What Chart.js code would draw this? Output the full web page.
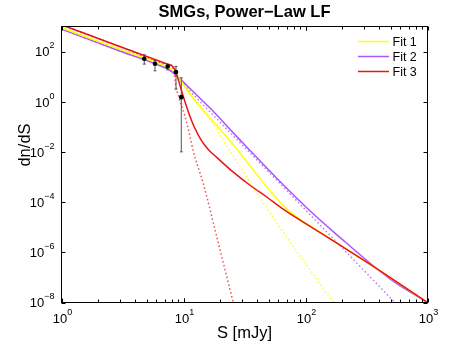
<!DOCTYPE html>
<html>
<head>
<meta charset="utf-8">
<script src="https://cdn.jsdelivr.net/npm/chart.js@4.4.0/dist/chart.umd.min.js"></script>
<style>
  html, body { margin: 0; padding: 0; background: #fff; }
</style>
</head>
<body>
<canvas id="lf" width="471" height="344"></canvas>
<script>
const pointS = [4.77, 5.84, 7.42, 8.68, 9.59];
const pointN = [51.6, 32.6, 25.5, 15.2, 1.53];
const errLow = [31.7, 17.1, 18.8, 3.2, 0.0101];
const errHigh = [74.5, 44.2, 31.7, 25.5, 9.0];

// Fit 1 (yellow): total and dotted component
const fit1S = [1, 3, 7.42, 8.2, 8.68, 10.6, 13.65, 25.6, 48.1, 67.9, 90.1, 131.5, 400, 1000];
const fit1N = [887, 123, 24.1, 18.8, 14.3, 3.0, 0.647, 0.0193, 4.08e-4, 6.2e-5, 2.07e-5, 6.4e-6, 1.95e-7, 1e-8];
const fit1DotS = [1, 3, 7.42, 8.2, 9.36, 15.5, 27.3, 48.1, 169];
const fit1DotN = [887, 123, 24.1, 18.8, 7.5, 0.303, 4.2e-3, 5.8e-5, 1e-8];

// Fit 2 (purple)
const fit2S = [1, 3, 7.42, 8.05, 9.36, 12.0, 16.5, 28.1, 61.8, 105.4, 174.5, 492.6, 1000];
const fit2N = [787, 106, 20.0, 15.6, 8.2, 2.57, 0.56, 0.0356, 6.6e-4, 5.2e-5, 5.8e-6, 8.7e-8, 1e-8];
const fit2DotS = [1, 3, 7.42, 8.05, 10.29, 61.8, 540];
const fit2DotN = [787, 106, 20.0, 15.6, 4.3, 5.5e-4, 1e-8];

// Fit 3 (red)
const fit3S = [1, 3, 7.42, 8.05, 8.52, 9.07, 9.96, 11.3, 12.4, 13.65, 15.0, 16.4, 18.7, 25.6, 35.1, 48.1, 63.8, 150, 400, 1000];
const fit3N = [1160, 160, 31.2, 27.0, 18.8, 7.5, 1.62, 0.259, 0.088, 0.0356, 0.018, 0.0109, 6.1e-3, 1.57e-3, 4.7e-4, 1.6e-4, 5.8e-5, 4.1e-6, 1.95e-7, 1e-8];
const fit3DotS = [1, 3, 7.42, 8.05, 8.8, 10.29, 11.3, 12.03, 14.5, 18.7, 21.9, 25.6];
const fit3DotN = [1160, 160, 31.2, 27.0, 3.0, 0.259, 0.0413, 0.0104, 5.7e-4, 4.3e-6, 2.0e-7, 1e-8];

// axis ticks
const xMajor = [1, 10, 100, 1000];
const xMajorExp = ['0', '1', '2', '3'];
const yMajor = [1e2, 1, 1e-2, 1e-4, 1e-6, 1e-8];
const yMajorExp = ['2', '0', '\u22122', '\u22124', '\u22126', '\u22128'];

const YELLOW = 'rgb(255,255,0)';
const PURPLE = 'rgb(170,85,255)';
const RED = 'rgb(235,20,20)';
const FONT = "'Liberation Sans', Arial, Helvetica, sans-serif";

const toXY = (xs, ys) => xs.map((v, i) => ({x: v, y: ys[i]}));

function curve(label, xs, ys, color, order) {
  return { label: label, data: toXY(xs, ys), showLine: true, borderColor: color,
    borderWidth: 1.5, pointRadius: 0, cubicInterpolationMode: 'monotone', clip: 0, order: order };
}
function dotted(xs, ys, color, order) {
  return { label: '', data: toXY(xs, ys), showLine: true, borderColor: color,
    borderWidth: 1.5, borderDash: [1.5, 2.5], pointRadius: 0, cubicInterpolationMode: 'monotone',
    clip: 0, order: order };
}

const errorBars = pointS.map((s, i) => ({
  label: '', data: [{x: s, y: errLow[i]}, {x: s, y: errHigh[i]}],
  showLine: true, borderColor: '#555', borderWidth: 1,
  pointStyle: 'line', pointRadius: 1.5, pointBorderColor: '#555', pointBorderWidth: 1,
  clip: 0, order: 1
}));

const fits = [
  {label: 'Fit 1', color: YELLOW},
  {label: 'Fit 2', color: PURPLE},
  {label: 'Fit 3', color: RED}
];

function drawPow(ctx, exp, x, yBase, align) {
  ctx.font = '13px ' + FONT;
  const w10 = ctx.measureText('10').width;
  ctx.font = '9px ' + FONT;
  const we = ctx.measureText(exp).width;
  const total = w10 + we;
  let x0 = align === 'center' ? x - total / 2 : x - total;
  ctx.textAlign = 'left';
  ctx.textBaseline = 'alphabetic';
  ctx.font = '13px ' + FONT;
  ctx.fillText('10', x0, yBase);
  ctx.font = '9px ' + FONT;
  ctx.fillText(exp, x0 + w10, yBase - 8);
}

// MATLAB style box, inward ticks, labels, titles and legend
const axisDecor = {
  id: 'axisDecor',
  afterDraw(chart) {
    const {ctx, chartArea: a, scales: {x, y}} = chart;
    ctx.save();
    ctx.strokeStyle = '#000';
    ctx.fillStyle = '#000';
    ctx.lineWidth = 1;

    // x ticks, top and bottom
    for (let d = 1; d < 1000; d *= 10) {
      for (let k = 1; k <= 10; k++) {
        const v = d * k;
        if (v > 1000) break;
        const px = Math.round(x.getPixelForValue(v)) + 0.5;
        const len = (k === 1 || k === 10) ? 4 : 3;
        ctx.beginPath();
        ctx.moveTo(px, a.bottom); ctx.lineTo(px, a.bottom - len);
        ctx.moveTo(px, a.top); ctx.lineTo(px, a.top + len);
        ctx.stroke();
      }
    }
    // y ticks, left and right
    yMajor.forEach(v => {
      const py = Math.round(y.getPixelForValue(v)) + 0.5;
      ctx.beginPath();
      ctx.moveTo(a.left, py); ctx.lineTo(a.left + 4, py);
      ctx.moveTo(a.right, py); ctx.lineTo(a.right - 4, py);
      ctx.stroke();
    });

    ctx.strokeRect(a.left, a.top, a.right - a.left, a.bottom - a.top);

    // tick labels
    xMajor.forEach((v, i) => drawPow(ctx, xMajorExp[i], x.getPixelForValue(v) + 1, a.bottom + 20, 'center'));
    yMajor.forEach((v, i) => drawPow(ctx, yMajorExp[i], a.left - 7, y.getPixelForValue(v) + 4.8, 'right'));

    // titles
    ctx.textAlign = 'center';
    ctx.textBaseline = 'alphabetic';
    ctx.font = 'bold 16.5px ' + FONT;
    ctx.fillText('SMGs, Power\u2212Law LF', (a.left + a.right) / 2, 17);
    ctx.font = '16.5px ' + FONT;
    ctx.fillText('S [mJy]', (a.left + a.right) / 2, 338);
    ctx.save();
    ctx.translate(30, 145);
    ctx.rotate(-Math.PI / 2);
    ctx.fillText('dn/dS', 0, 0);
    ctx.restore();

    // legend
    ctx.font = '12.5px ' + FONT;
    ctx.textAlign = 'left';
    fits.forEach((f, i) => {
      const ly = 41.5 + i * 15;
      ctx.strokeStyle = f.color;
      ctx.lineWidth = 1.5;
      ctx.beginPath();
      ctx.moveTo(358, ly); ctx.lineTo(389, ly);
      ctx.stroke();
      ctx.fillText(f.label, 392.5, ly + 4.4);
    });
    ctx.restore();
  }
};

new Chart(document.getElementById('lf'), {
  type: 'scatter',
  data: {
    datasets: [
      {label: '', data: toXY(pointS, pointN), pointRadius: 2.3, pointBackgroundColor: '#000',
        pointBorderColor: '#000', borderWidth: 0, clip: 0, order: 0},
      ...errorBars,
      curve('Fit 3', fit3S, fit3N, RED, 2),
      curve('Fit 1', fit1S, fit1N, YELLOW, 3),
      curve('Fit 2', fit2S, fit2N, PURPLE, 4),
      dotted(fit3DotS, fit3DotN, 'rgba(235,20,20,0.75)', 5),
      dotted(fit1DotS, fit1DotN, 'rgba(255,255,0,0.85)', 6),
      dotted(fit2DotS, fit2DotN, 'rgba(170,85,255,0.8)', 7)
    ]
  },
  options: {
    responsive: false,
    animation: false,
    devicePixelRatio: 1,
    events: [],
    layout: { padding: { left: 61.5, right: 43.5, top: 26.5, bottom: 41.5 } },
    plugins: { legend: { display: false }, tooltip: { enabled: false } },
    scales: {
      x: { type: 'logarithmic', min: 1, max: 1000, display: false },
      y: { type: 'logarithmic', min: 1e-8, max: 1e3, display: false }
    }
  },
  plugins: [axisDecor]
});
</script>
</body>
</html>
